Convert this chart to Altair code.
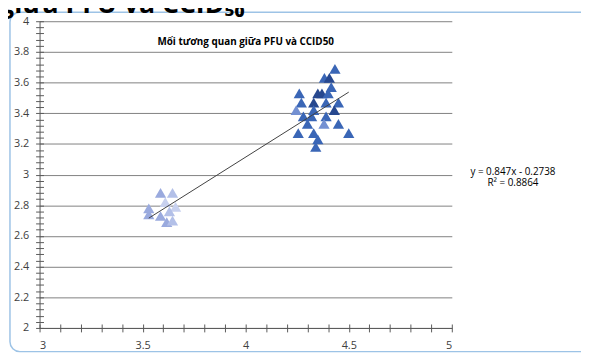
import altair as alt
import pandas as pd

# ---- data ----
pfu = [4.433, 4.382, 4.406, 4.415, 4.26, 4.35, 4.37, 4.40, 4.27, 4.33, 4.39, 4.45,
       4.245, 4.43, 4.33, 4.28, 4.32, 4.39, 4.38, 4.30, 4.45, 4.255, 4.33, 4.50,
       4.35, 4.34,
       3.53, 3.53, 3.587, 3.645, 3.587, 3.617, 3.645, 3.66, 3.63, 3.61]
ccid = [3.69, 3.63, 3.63, 3.57, 3.53, 3.53, 3.53, 3.53, 3.47, 3.47, 3.47, 3.47,
        3.42, 3.42, 3.42, 3.38, 3.38, 3.38, 3.33, 3.33, 3.33, 3.27, 3.27, 3.27,
        3.23, 3.18,
        2.78, 2.74, 2.88, 2.88, 2.73, 2.69, 2.70, 2.79, 2.76, 2.82]
shade = ["mid", "mid", "dark", "mid", "mid", "dark", "dark", "mid", "mid", "dark", "mid", "mid",
         "light", "dark", "mid", "mid", "mid", "mid", "light", "mid", "mid", "mid", "mid", "mid",
         "mid", "mid",
         "pale1", "pale1", "pale1", "pale2", "pale1", "pale1", "pale2", "pale3", "pale2", "pale3"]
shade_names = ["dark", "mid", "light", "pale1", "pale2", "pale3"]

slope = 0.847
intercept = -0.2738
r2 = 0.8864

x_labels = [3, 3.5, 4, 4.5, 5]
y_labels = [round(2 + 0.2 * i, 1) for i in range(11)]
x_minor = [round(3 + 0.1 * i, 1) for i in range(21)]
y_minor = [round(2 + 0.04 * i, 2) for i in range(51)]

chart_title = "Mối tương quan giữa PFU và CCID50"
page_title = "giữa PFU và CCID₅₀"
eq_line1 = f"y = {slope}x - {abs(intercept)}"
eq_line2 = f"R² = {r2}"

# ---- build ----
df = pd.DataFrame({"x": pfu, "y": ccid, "shade": shade})
trend = pd.DataFrame({"x": [min(pfu), max(pfu)]})
trend["y"] = slope * trend["x"] + intercept

W, H = 418, 311
FONT = "Open Sans"
xs = alt.Scale(domain=[3, 5], nice=False, zero=False)
ys = alt.Scale(domain=[2, 4], nice=False, zero=False)

axis_x_main = alt.Axis(values=x_labels, grid=False, ticks=False, domainColor="#595959",
                       labelPadding=12, labelFont=FONT, labelFontSize=11,
                       labelColor="#404040", title=None, format="~g")
axis_y_main = alt.Axis(values=y_labels, grid=True, gridColor="#808080", ticks=False,
                       domainColor="#595959", labelPadding=11, labelFont=FONT,
                       labelFontSize=11, labelColor="#404040", title=None, format="~g")
axis_x_tick = alt.Axis(values=x_minor, labels=False, domain=False, grid=False, tickSize=8,
                       offset=-4, tickColor="#595959", orient="bottom", title=None)
axis_y_tick = alt.Axis(values=y_minor, labels=False, domain=False, grid=False, tickSize=8,
                       offset=-4, tickColor="#595959", orient="left", title=None)

base = alt.Chart(df)

points = base.mark_point(shape="triangle-up", filled=True, size=130, opacity=1).encode(
    x=alt.X("x:Q", scale=xs, axis=axis_x_main),
    y=alt.Y("y:Q", scale=ys, axis=axis_y_main),
    color=alt.Color("shade:N", legend=None,
                    scale=alt.Scale(domain=shade_names,
                                    range=["#27488f", "#3a66b6", "#7390d2",
                                           "#9aaade", "#b3c0e8", "#c8d1ef"])),
)

ticks = base.mark_point(opacity=0).encode(
    x=alt.X("x:Q", scale=xs, axis=axis_x_tick),
    y=alt.Y("y:Q", scale=ys, axis=axis_y_tick),
)

line = alt.Chart(trend).mark_line(color="#404040", strokeWidth=1).encode(
    x=alt.X("x:Q", scale=xs, axis=None),
    y=alt.Y("y:Q", scale=ys, axis=None),
)

frame = alt.Chart(pd.DataFrame({"k": [0]})).mark_rect(
    fillOpacity=0, stroke="#9dc3e6", strokeWidth=1.5, cornerRadius=10
).encode(x=alt.value(-30), x2=alt.value(620), y=alt.value(-9), y2=alt.value(335))

title_txt = alt.Chart(pd.DataFrame({"t": [chart_title]})).mark_text(
    font=FONT, fontSize=10, fontWeight="bold", color="#000000", align="center", baseline="middle"
).encode(text="t:N", x=alt.value(W / 2), y=alt.value(21))

top_txt = alt.Chart(pd.DataFrame({"t": [page_title]})).mark_text(
    font=FONT, fontSize=27, fontWeight="bold", color="#000000", align="left", baseline="alphabetic"
).encode(text="t:N", x=alt.value(-41), y=alt.value(-8))

eq_txt = alt.Chart(pd.DataFrame({"t": [eq_line1, eq_line2], "r": [0, 1]})).mark_text(
    font=FONT, fontSize=10, color="#000000", align="center", baseline="middle"
).encode(text="t:N", x=alt.value(480), y=alt.value(153),
         yOffset=alt.YOffset("r:Q", scale=alt.Scale(domain=[0, 1], range=[0, 11])))

chart = alt.layer(frame, points, ticks, line, title_txt, eq_txt, top_txt).resolve_axis(
    x="independent", y="independent"
).properties(
    width=W, height=H,
    padding={"left": 32, "top": 11, "right": 131, "bottom": 24},
    autosize=alt.AutoSizeParams(type="none"),
).configure_view(stroke=None)

chart.save("out.html", embed_options={"renderer": "svg", "actions": False})
